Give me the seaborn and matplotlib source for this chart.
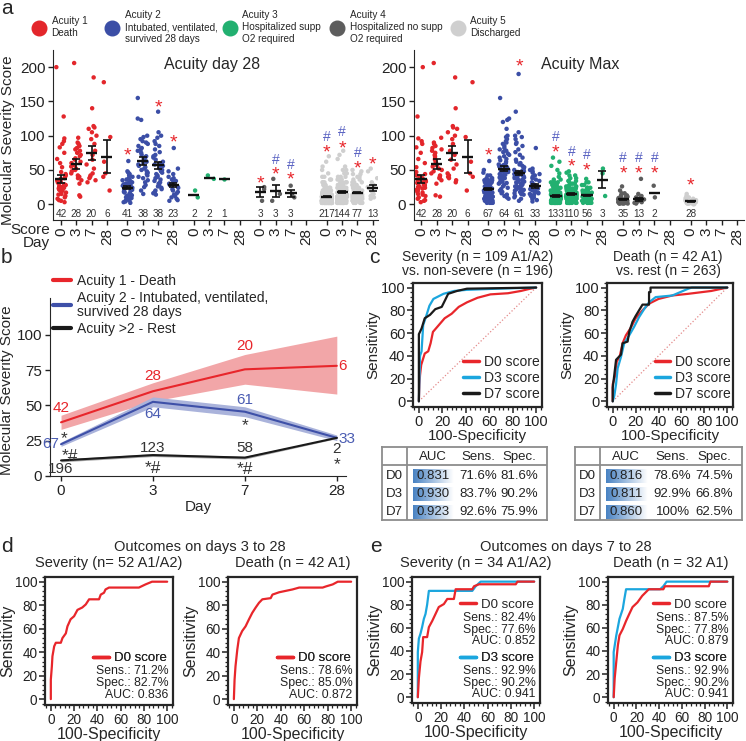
import numpy as np
import pandas as pd
import seaborn as sns
import matplotlib.pyplot as plt
from matplotlib.colors import LinearSegmentedColormap
from matplotlib.lines import Line2D
from matplotlib.ticker import AutoMinorLocator

sns.set_style("ticks")
plt.rcParams["font.family"] = ["Liberation Sans", "DejaVu Sans"]


def spread(vals, counts):
    return list(np.repeat(vals, counts))


# ---------------- panel a : scores per patient ----------------
ACUITY_NAMES = [
    "Acuity 1\nDeath",
    "Acuity 2\nIntubated, ventilated,\nsurvived 28 days",
    "Acuity 3\nHospitalized supp\nO2 required",
    "Acuity 4\nHospitalized no supp\nO2 required",
    "Acuity 5\nDischarged",
]
ACUITY_COLORS = ["#e3262b", "#3b4ea6", "#22b070", "#5d5d5d", "#cfcfcf"]
DAY_LABELS = ["0", "3", "7", "28"]

# acuity 1 (same in both halves)
A1_D0 = [200, 128, 96, 92, 88, 83, 75, 66, 60, 54, 47, 44, 42, 40, 38, 37, 35, 34, 33, 32, 31,
         30, 29, 28, 27, 26, 25, 24, 23, 22, 21, 20, 18, 17, 15, 14, 12, 10, 8, 6, 5, 3]
A1_D3 = [206, 97, 90, 88, 85, 82, 80, 78, 75, 72, 70, 67, 65, 62, 60, 57, 55, 52, 50, 48, 45,
         42, 40, 38, 35, 30, 13, 11]
A1_D7 = [185, 140, 114, 112, 110, 105, 100, 95, 88, 78, 72, 65, 58, 52, 45, 42, 40, 38, 35, 32]
A1_D28 = [178, 98, 62, 45, 40, 20]
A1_MEAN = [37, 59, 75, 69]
A1_SEM = [6, 7, 10, 24]

# acuity on day 28
L_A2_D0 = [63, 48, 46, 44, 42, 40, 38, 36, 35, 34, 32, 31, 30, 29, 28, 27, 26, 25, 24, 23, 22,
           21, 20, 19, 18, 17, 16, 15, 14, 13, 12, 11, 10, 9, 8, 7, 6, 5, 4, 3, 2]
L_A2_D3 = [155, 125, 123, 100, 98, 95, 92, 90, 88, 85, 82, 80, 78, 75, 72, 70, 68, 66, 64, 62,
           60, 58, 56, 54, 52, 50, 48, 46, 44, 42, 40, 38, 35, 32, 28, 25, 20, 15]
L_A2_D7 = [135, 105, 100, 97, 92, 88, 85, 80, 76, 72, 70, 68, 65, 62, 60, 58, 56, 54, 52, 50,
           48, 46, 44, 42, 40, 38, 36, 34, 32, 30, 28, 26, 24, 22, 20, 18, 16, 14]
L_A2_D28 = [82, 52, 48, 44, 40, 38, 36, 34, 32, 30, 28, 26, 24, 22, 20, 18, 16, 14, 12, 10, 8, 6, 5]
L_A3_D0 = [20, 10]
L_A3_D3 = [42, 37]
L_A3_D7 = [37]
L_A4_D0 = [25, 22, 5]
L_A4_D3 = [37, 15, 5]
L_A4_D7 = [27, 15, 10]
L_A5_D0 = spread([2, 5, 8, 11, 14, 17, 20, 24, 28, 32, 36, 40, 45, 50, 55, 62, 70],
                 [40, 45, 40, 30, 20, 12, 8, 6, 4, 3, 2, 2, 1, 1, 1, 1, 1])
L_A5_D3 = spread([2, 5, 8, 11, 14, 17, 20, 24, 28, 32, 36, 40, 45, 50, 55, 66, 72, 78],
                 [18, 22, 22, 18, 14, 11, 8, 7, 6, 4, 3, 3, 2, 2, 1, 1, 1, 1])
L_A5_D7 = spread([2, 5, 8, 11, 14, 17, 20, 24, 28, 32, 36, 40, 44, 48, 50],
                 [8, 10, 11, 10, 8, 7, 5, 4, 3, 3, 2, 2, 2, 1, 1])
L_A5_D28 = [52, 48, 38, 32, 28, 25, 22, 20, 18, 15, 12, 10, 8]
L_A2_MEAN, L_A2_SEM = [24, 63, 57, 28], [2, 6, 5, 3.5]
L_A3_MEAN, L_A3_SEM = [14, 38, 37], [0, 0, 0]
L_A4_MEAN, L_A4_SEM = [18, 19, 16], [7, 9, 5]
L_A5_MEAN, L_A5_SEM = [11, 18, 17, 24], [0.8, 1, 1.2, 4.5]
# (acuity, day) slots of the significance marks and their heights
L_STARS = [(1, 0, 80), (1, 2, 149), (1, 3, 99), (3, 0, 39), (3, 1, 51), (3, 2, 44),
           (4, 0, 84), (4, 1, 90), (4, 2, 60), (4, 3, 67)]
L_HASH = [(3, 1, 66), (3, 2, 58), (4, 0, 99), (4, 1, 107), (4, 2, 76)]

# maximum acuity
R_A2_D0 = spread([2, 5, 8, 11, 14, 17, 20, 23, 26, 29, 32, 35, 38, 42, 46, 50, 63],
                 [5, 6, 6, 6, 6, 6, 6, 5, 4, 4, 3, 3, 2, 2, 1, 1, 1])
R_A2_D3 = [155, 125, 123, 120, 110, 100, 98, 95, 92, 90, 88, 85, 82, 80, 78, 76, 74, 72, 70, 68,
           66, 64, 62, 60, 58, 57, 56, 55, 54, 53, 52, 51, 50, 49, 48, 47, 46, 45, 44, 43, 42,
           41, 40, 39, 38, 37, 36, 35, 34, 33, 32, 31, 30, 28, 26, 24, 22, 20, 18, 16, 14, 12, 10, 8]
R_A2_D7 = [190, 135, 105, 100, 98, 95, 90, 88, 85, 80, 76, 72, 68, 65, 62, 60, 58, 56, 54, 52,
           50, 49, 48, 47, 46, 45, 44, 43, 42, 41, 40, 39, 38, 37, 36, 35, 34, 33, 32, 31, 30,
           29, 28, 27, 26, 25, 24, 23, 22, 21, 20, 19, 18, 17, 16, 15, 14, 12, 10, 8, 5]
R_A2_D28 = [82, 52, 50, 48, 46, 44, 42, 40, 38, 36, 34, 32, 30, 28, 27, 26, 25, 24, 23, 22, 21,
            20, 19, 18, 17, 16, 15, 14, 12, 10, 8, 6, 4]
R_A3_D0 = spread([2, 5, 8, 11, 14, 17, 20, 24, 28, 32, 36, 40, 45, 50, 56, 62, 68],
                 [22, 26, 22, 17, 12, 9, 6, 5, 3, 3, 2, 1, 1, 1, 1, 1, 1])
R_A3_D3 = spread([2, 5, 8, 11, 14, 17, 20, 23, 26, 30, 34, 38, 42, 46, 48],
                 [12, 15, 15, 14, 12, 10, 8, 6, 5, 4, 3, 2, 2, 1, 1])
R_A3_D7 = spread([2, 5, 8, 11, 14, 17, 20, 24, 28, 32, 37],
                 [7, 9, 9, 8, 6, 5, 4, 3, 2, 2, 1])
R_A3_D28 = [52, 45, 12]
R_A4_D0 = spread([1, 3, 5, 7, 9, 11, 13, 16, 20, 26], [5, 6, 6, 5, 4, 3, 2, 2, 1, 1])
R_A4_D3 = [37, 15, 12, 10, 9, 8, 7, 6, 5, 4, 3, 2, 1]
R_A4_D7 = [27, 10]
R_A5_D0 = [15, 12, 10, 9, 8, 7, 6, 6, 5, 5, 5, 4, 4, 4, 4, 3, 3, 3, 3, 2, 2, 2, 2, 1, 1, 1, 0, 0]
R_A2_MEAN, R_A2_SEM = [22, 52, 45, 26], [1.5, 4, 3, 3]
R_A3_MEAN, R_A3_SEM = [12, 15, 13, 36], [0.8, 0.8, 1, 12]
R_A4_MEAN, R_A4_SEM = [7, 7, 17], [1, 2.5, 0]
R_A5_MEAN, R_A5_SEM = [4], [0.5]
R_STARS = [(1, 0, 79), (1, 2, 209), (2, 0, 84), (2, 1, 63), (2, 2, 58), (3, 0, 53), (3, 1, 53),
           (3, 2, 53), (4, 0, 36)]
R_HASH = [(2, 0, 99), (2, 1, 78), (2, 2, 74), (3, 0, 69), (3, 1, 69), (3, 2, 69)]

LEFT_POINTS = [(0, [A1_D0, A1_D3, A1_D7, A1_D28]), (1, [L_A2_D0, L_A2_D3, L_A2_D7, L_A2_D28]),
               (2, [L_A3_D0, L_A3_D3, L_A3_D7]), (3, [L_A4_D0, L_A4_D3, L_A4_D7]),
               (4, [L_A5_D0, L_A5_D3, L_A5_D7, L_A5_D28])]
LEFT_MEANS = [(0, A1_MEAN, A1_SEM), (1, L_A2_MEAN, L_A2_SEM), (2, L_A3_MEAN, L_A3_SEM),
              (3, L_A4_MEAN, L_A4_SEM), (4, L_A5_MEAN, L_A5_SEM)]
RIGHT_POINTS = [(0, [A1_D0, A1_D3, A1_D7, A1_D28]), (1, [R_A2_D0, R_A2_D3, R_A2_D7, R_A2_D28]),
                (2, [R_A3_D0, R_A3_D3, R_A3_D7, R_A3_D28]), (3, [R_A4_D0, R_A4_D3, R_A4_D7]),
                (4, [R_A5_D0])]
RIGHT_MEANS = [(0, A1_MEAN, A1_SEM), (1, R_A2_MEAN, R_A2_SEM), (2, R_A3_MEAN, R_A3_SEM),
               (3, R_A4_MEAN, R_A4_SEM), (4, R_A5_MEAN, R_A5_SEM)]

# ---------------- panel b : mean scores over time ----------------
B_DAY_POS = [0, 1, 2, 3]
B_A1_MEAN, B_A1_LO, B_A1_HI = [38, 60, 75.5, 78], [33, 53, 65, 58], [43, 66, 86, 99]
B_A2_MEAN, B_A2_LO, B_A2_HI = [22.5, 52.5, 45.5, 27], [21, 49, 42, 25], [24, 56, 49, 29]
B_REST_MEAN, B_REST_LO, B_REST_HI = [11, 14.8, 13, 27], [10, 13.8, 12, 26.5], [12, 15.8, 14, 27.5]
B_A1_N = ["42", "28", "20", "6"]
B_A2_N = ["67", "64", "61", "33"]
B_REST_N = ["196", "123", "58", "2"]

# ---------------- panel c : ROC of each day's score ----------------
C_SEV_D0_FPR = [0, 0.5, 1, 2, 5, 8, 10, 12, 17, 22, 28, 34, 41, 50, 61, 76, 87, 95, 100]
C_SEV_D0_TPR = [0, 15, 23, 32, 42, 44, 51, 61, 67, 73, 77, 83, 87, 91, 94, 95, 97, 99, 100]
C_SEV_D3_FPR = [0, 1, 2.3, 3.7, 6.6, 9, 12.4, 21, 30, 41, 67, 100]
C_SEV_D3_TPR = [0, 40, 44, 67, 76, 84, 90, 94.5, 97, 98, 99, 100]
C_SEV_D7_FPR = [0, 0, 2.3, 5, 9.5, 14, 19.5, 22.4, 25, 32.5, 41, 100]
C_SEV_D7_TPR = [0, 59, 64, 73, 76, 81, 83, 89, 94.5, 97, 99, 100]
C_DEA_D0_FPR = [0, 0, 2.3, 3.5, 6, 8.6, 11.5, 16, 20, 26, 32, 40, 52, 66, 86, 100]
C_DEA_D0_TPR = [0, 15, 23, 35, 39, 51, 58, 65, 73, 80, 86, 90, 93, 94.5, 97, 100]
C_DEA_D3_FPR = [0, 1.4, 2.9, 4.3, 7.2, 10, 14.4, 18.7, 23, 27.4, 31.7, 37.5, 52, 66, 69, 100]
C_DEA_D3_TPR = [0, 5, 15, 29, 39, 51, 58, 65.5, 74, 81, 87, 91.6, 93, 99, 100, 100]
C_DEA_D7_FPR = [0, 0, 1.4, 2.9, 7.2, 8.6, 13, 14.4, 17.3, 20, 26, 31.7, 31.7, 33, 33, 100]
C_DEA_D7_TPR = [0, 12, 23.5, 36.5, 41, 51, 52.5, 61, 70, 75, 85, 85, 96, 96, 100, 100]
TABLE_ROWS = ["D0", "D3", "D7"]
C_SEV_AUC, C_SEV_SENS, C_SEV_SPEC = ["0.831", "0.930", "0.923"], ["71.6%", "83.7%", "92.6%"], ["81.6%", "90.2%", "75.9%"]
C_DEA_AUC, C_DEA_SENS, C_DEA_SPEC = ["0.816", "0.811", "0.860"], ["78.6%", "92.9%", "100%"], ["74.5%", "66.8%", "62.5%"]

# ---------------- panels d / e : later outcomes ----------------
D_SEV_FPR = [0, 0, 0.9, 1.4, 2.9, 4.3, 8.6, 10, 12.9, 14.3, 17, 20, 22.9, 27, 30, 32.9, 41.4, 42.9,
             45.7, 47, 50, 75.7, 81.4, 87, 100]
D_SEV_TPR = [0, 16.5, 28, 36.5, 45, 48, 48, 52, 56, 62, 68, 70.6, 76, 78, 80.6, 85, 85, 89, 90.6,
             93.4, 95, 95, 97.7, 100, 100]
D_DEA_FPR = [0, 0.6, 1.4, 2.9, 4.3, 7.1, 10, 12.9, 15.7, 18.6, 21.4, 24.3, 31.4, 32.9, 38.6, 50,
             55.7, 75.7, 78.6, 84.3, 88.6, 100]
D_DEA_TPR = [0, 16.5, 28, 42, 52, 58, 62, 68, 73.5, 78, 82, 85, 86, 89, 91, 93.4, 95, 95, 96, 97.7,
             100, 100]
E_SEV_D0_FPR = [0, 0.9, 2.3, 3.7, 4.6, 8, 9.5, 12.4, 15.2, 18, 22.4, 25.3, 31, 32.5, 46.8, 48.3,
                52.6, 84.2, 85.6, 100]
E_SEV_D0_TPR = [0, 16.5, 31, 39, 52, 52, 60.6, 66, 72, 78, 80.6, 85, 85, 93.4, 93.4, 96, 97.7,
                97.7, 100, 100]
E_SEV_D3_FPR = [0, 0, 0.9, 2.3, 3.7, 5.2, 6.6, 8, 9.5, 46.8, 49.7, 54, 100]
E_SEV_D3_TPR = [0, 39, 50.7, 55, 60.7, 67.8, 72, 80, 92, 92, 96, 100, 100]
E_DEA_D0_FPR = [0, 0.9, 2.3, 3.7, 5.1, 8, 10.9, 13.7, 16.6, 20.9, 25.1, 30.9, 43.7, 45.1, 83.7, 85.1, 100]
E_DEA_D0_TPR = [0, 16.5, 31, 45, 53.5, 59, 66, 72, 78, 82, 87.7, 93.4, 93.4, 96, 96, 100, 100]
E_DEA_D3_FPR = [0, 0, 2.3, 5.1, 8, 9.4, 10.9, 40.9, 43.7, 46.6, 100]
E_DEA_D3_TPR = [0, 39, 53.5, 67.8, 76.4, 85, 93.4, 93.4, 96, 100, 100]
D_SEV_STATS = ("71.2%", "82.7%", "0.836")
D_DEA_STATS = ("78.6%", "85.0%", "0.872")
E_SEV_STATS = [("82.4%", "77.6%", "0.852"), ("92.9%", "90.2%", "0.941")]
E_DEA_STATS = [("87.5%", "77.8%", "0.879"), ("92.9%", "90.2%", "0.941")]

RED, CYAN, BLACK = "#e8262b", "#1ba6de", "#1a1a1a"
HASH = "#5962c2"
TXT = "#222222"
DAY_STEP = 1.15  # slot spacing inside an acuity group

W, H = 746, 741
fig = plt.figure(figsize=(W / 100, H / 100), dpi=100)


def box(x0, y0, x1, y1):
    """axes from a pixel box (top-left origin)"""
    return fig.add_axes([x0 / W, 1 - y1 / H, (x1 - x0) / W, (y1 - y0) / H])


def slot(a, d):
    return a * 5 + d * DAY_STEP


def glyph(ax, x, y, s, color, size, lift):
    ax.annotate(s, (x, y), xytext=(0, -lift * size), textcoords="offset points",
                ha="center", va="baseline", fontsize=size, color=color, zorder=6)


def score_panel(ax, points, means, stars, hashes, title, title_x, xlim):
    rows = [(slot(a, d), v, str(a)) for a, days in points for d, vals in enumerate(days) for v in vals]
    df = pd.DataFrame(rows, columns=["pos", "score", "acuity"])
    pal = {str(i): c for i, c in enumerate(ACUITY_COLORS)}
    sns.stripplot(data=df, x="pos", y="score", hue="acuity", palette=pal, native_scale=True,
                  jitter=0.34, size=3.2, linewidth=0, legend=False, ax=ax, zorder=1)
    for a, days in points:
        for d, vals in enumerate(days):
            ax.text(slot(a, d), -14, str(len(vals)), ha="center", va="center", fontsize=7.2,
                    color="#333")
    for a, m, e in means:
        pos = np.array([slot(a, d) for d in range(len(m))])
        ax.hlines(m, pos - 0.42, pos + 0.42, color="#111", lw=1.7, zorder=5)
        ax.errorbar(pos, m, yerr=e, fmt="none", ecolor="#111", elinewidth=1.2, capsize=2.6,
                    capthick=1.2, zorder=5)
    for a, d, y in stars:
        glyph(ax, slot(a, d), y, "*", "#e8262b", 14, 0.55)
    for a, d, y in hashes:
        glyph(ax, slot(a, d), y, "#", HASH, 10, 0.36)
    ax.set_xlim(*xlim)
    ax.set_ylim(-23, 225)
    ax.set_xticks([slot(a, d) for a in range(5) for d in range(4)])
    ax.set_xticklabels(DAY_LABELS * 5, rotation=90)
    ax.set_yticks(range(0, 201, 50))
    ax.tick_params(labelsize=11, length=3.5, width=1, pad=2, colors="#222")
    ax.set_xlabel("")
    ax.set_ylabel("")
    sns.despine(ax=ax)
    ax.text(title_x, 0.915, title, transform=ax.transAxes, ha="center", va="center", fontsize=11.5)


# ---- panel a
ax_al = box(53, 50, 378, 220)
score_panel(ax_al, LEFT_POINTS, LEFT_MEANS, L_STARS, L_HASH, "Acuity day 28", 0.49, (-0.6, 23.85))
ax_al.set_ylabel("Molecular Severity Score", fontsize=11)
ax_al.yaxis.set_label_coords(-0.118, 0.47)
ax_ar = box(414, 50, 744, 220)
score_panel(ax_ar, RIGHT_POINTS, RIGHT_MEANS, R_STARS, R_HASH, "Acuity Max", 0.503, (-0.52, 23.95))
fig.text(50 / W, 1 - 230 / H, "Score", ha="right", va="center", fontsize=11)
fig.text(50 / W, 1 - 243 / H, "Day", ha="right", va="center", fontsize=11)

for name, color, mx in zip(ACUITY_NAMES, ACUITY_COLORS, [39, 112, 230, 337, 458]):
    h = Line2D([], [], ls="", marker="o", markersize=10.5, color=color)
    leg = fig.legend([h], [name], loc="center left", bbox_to_anchor=((mx - 5) / W, 1 - 27 / H),
                     frameon=False, handlelength=1.0, handletextpad=0.75, borderpad=0,
                     borderaxespad=0, fontsize=7.2)
    for t in leg.get_texts():
        t.set_linespacing(1.2)

# ---- panel b
axb = box(50, 298, 346, 476)
series_b = [
    (B_A1_MEAN, B_A1_LO, B_A1_HI, "#e8262b", "#f2a6a8", "Acuity 1 - Death"),
    (B_A2_MEAN, B_A2_LO, B_A2_HI, "#3e50a8", "#aab3db", "Acuity 2 - Intubated, ventilated,\nsurvived 28 days"),
    (B_REST_MEAN, B_REST_LO, B_REST_HI, "#1a1a1a", "#a8a8a8", "Acuity >2 - Rest"),
]
for mean, lo, hi, color, band, label in series_b:
    axb.fill_between(B_DAY_POS, lo, hi, color=band, lw=0, zorder=1)
    sns.lineplot(x=B_DAY_POS, y=mean, color=color, lw=1.5, ax=axb, label=label, zorder=3)
leg = axb.legend(loc="upper left", bbox_to_anchor=(0.01, 1.135), frameon=False, fontsize=10,
                 handlelength=1.3, handletextpad=0.4, labelspacing=0.2, borderpad=0, borderaxespad=0)
for ln in leg.get_lines():
    ln.set_linewidth(3)
for t in leg.get_texts():
    t.set_linespacing(1.0)
for x, s, y in zip(B_DAY_POS[:3], B_A1_N[:3], [48, 71, 92]):
    axb.text(x, y, s, color="#e8262b", ha="center", va="center", fontsize=11)
axb.text(3.02, B_A1_MEAN[3], B_A1_N[3], color="#e8262b", ha="left", va="center", fontsize=11)
axb.text(-0.025, B_A2_MEAN[0], B_A2_N[0], color="#4a5cb2", ha="right", va="center", fontsize=11)
axb.text(1, 44, B_A2_N[1], color="#4a5cb2", ha="center", va="center", fontsize=11)
axb.text(2, 54, B_A2_N[2], color="#4a5cb2", ha="center", va="center", fontsize=11)
axb.text(3.02, B_A2_MEAN[3] - 1, B_A2_N[3], color="#4a5cb2", ha="left", va="center", fontsize=11)
for x, s, y in zip(B_DAY_POS, B_REST_N, [5, 20, 20, 19]):
    axb.text(x, y, s, color="#333", ha="center", va="center", fontsize=11)
for x, s, y in [(0.03, "*", 29), (0.1, "*#", 16.5), (1, "*#", 8), (2, "*", 38), (2, "*#", 7), (3, "*", 10.5)]:
    glyph(axb, x, y, s, "#333", 12.5, 0.45)
axb.set_xlim(-0.12, 3.1)
axb.set_ylim(0, 126)
axb.set_xticks(B_DAY_POS)
axb.set_xticklabels(DAY_LABELS)
axb.set_yticks(range(0, 101, 25))
axb.tick_params(labelsize=11, length=3.5, width=1, pad=2, colors="#222")
axb.set_xlabel("Day", fontsize=11, labelpad=2)
axb.set_ylabel("Molecular Severity Score", fontsize=11)
axb.yaxis.set_label_coords(-0.122, 0.48)
sns.despine(ax=axb)


# ---- ROC helpers
def roc_axes(ax, tick_fs=10.5, label_fs=11):
    ax.set_xlim(-5, 105)
    ax.set_ylim(-5, 104)
    ax.set_xticks(range(0, 101, 20))
    ax.set_yticks(range(0, 101, 20))
    ax.xaxis.set_minor_locator(AutoMinorLocator(5))
    ax.yaxis.set_minor_locator(AutoMinorLocator(5))
    ax.tick_params(which="major", length=4, width=1.1, labelsize=tick_fs, pad=1.5, colors="#222")
    ax.tick_params(which="minor", length=2.2, width=0.9, colors="#222")
    for s in ax.spines.values():
        s.set_linewidth(1.6)
        s.set_color("#262626")
    ax.set_xlabel("100-Specificity", fontsize=label_fs, labelpad=0)
    ax.set_ylabel("Sensitivity", fontsize=label_fs, labelpad=0)


def roc_curve(ax, fpr, tpr, color, label=None):
    sns.lineplot(x=fpr, y=tpr, sort=False, estimator=None, color=color, lw=1.6, ax=ax,
                 label=label, zorder=3)


def auc_table(ax, auc, sens, spec):
    grad = LinearSegmentedColormap.from_list("auc", ["#4a83c3", "#ffffff"])
    for i, (lab, a, se, sp) in enumerate(zip(TABLE_ROWS, auc, sens, spec)):
        y = 29 + 18 * i
        ax.imshow(np.linspace(0, 1, 60)[None, :], cmap=grad, extent=(31, 72, y + 7, y - 7),
                  aspect="auto", zorder=0)
        ax.text(12.5, y, lab, ha="center", va="center", fontsize=9.5, color=TXT)
        ax.text(51, y, a, ha="center", va="center", fontsize=9.5, color=TXT)
        ax.text(97, y, se, ha="center", va="center", fontsize=9.5, color=TXT)
        ax.text(138, y, sp, ha="center", va="center", fontsize=9.5, color=TXT)
    for x, s in zip([51, 97, 138], ["AUC", "Sens.", "Spec."]):
        ax.text(x, 10, s, ha="center", va="center", fontsize=9.5, color=TXT)
    ax.axvline(25, color="#8c8c8c", lw=1.3)
    ax.axhline(18, color="#8c8c8c", lw=1.3)
    ax.set_xlim(0, 166)
    ax.set_ylim(73, 0)
    ax.set_xticks([])
    ax.set_yticks([])
    for s in ax.spines.values():
        s.set_color("#8c8c8c")
        s.set_linewidth(1.3)


# ---- panel c
for (x0, x1), curves, title, cx in [
    ((413, 542), [(C_SEV_D0_FPR, C_SEV_D0_TPR), (C_SEV_D3_FPR, C_SEV_D3_TPR), (C_SEV_D7_FPR, C_SEV_D7_TPR)],
     "Severity (n = 109 A1/A2)\nvs. non-severe (n = 196)", 478),
    ((607, 733), [(C_DEA_D0_FPR, C_DEA_D0_TPR), (C_DEA_D3_FPR, C_DEA_D3_TPR), (C_DEA_D7_FPR, C_DEA_D7_TPR)],
     "Death (n = 42 A1)\nvs. rest (n = 263)", 668),
]:
    ax = box(x0, 283, x1, 407)
    ax.plot([0, 100], [0, 100], ls=":", color="#e48a8a", lw=0.9, zorder=1)
    for (fpr, tpr), color, label in zip(curves, [RED, CYAN, BLACK], ["D0 score", "D3 score", "D7 score"]):
        roc_curve(ax, fpr, tpr, color, label)
    ax.legend(loc="lower right", bbox_to_anchor=(0.985, 0.05), frameon=False, fontsize=10,
              handlelength=1.1, handletextpad=0.4, labelspacing=0.15, borderpad=0, borderaxespad=0)
    for ln in ax.get_legend().get_lines():
        ln.set_linewidth(2.5)
    roc_axes(ax)
    fig.text(cx / W, 1 - 264 / H, title, ha="center", va="center", fontsize=10, linespacing=1.05)

auc_table(box(382, 447, 547, 520), C_SEV_AUC, C_SEV_SENS, C_SEV_SPEC)
auc_table(box(575, 447, 742, 520), C_DEA_AUC, C_DEA_SENS, C_DEA_SPEC)


def stat_block(ax, color, label, stats, top):
    h = Line2D([], [], color=color, lw=2.5)
    leg = ax.legend([h], [label], loc="center right", bbox_to_anchor=(0.955, top), frameon=False,
                    handlelength=1.2, handletextpad=0.4, borderpad=0, borderaxespad=0, fontsize=9.5)
    ax.add_artist(leg)
    sens, spec, auc = stats
    for k, txt in enumerate([f"Sens.: {sens}", f"Spec.: {spec}", f"AUC: {auc}"]):
        ax.text(0.965, top - 0.105 - 0.092 * k, txt, transform=ax.transAxes, ha="right",
                va="center", fontsize=8.8, color=TXT)


# ---- panel d
for (x0, x1), fpr, tpr, stats, title in [
    ((45, 173), D_SEV_FPR, D_SEV_TPR, D_SEV_STATS, "Severity (n= 52 A1/A2)"),
    ((228, 357), D_DEA_FPR, D_DEA_TPR, D_DEA_STATS, "Death (n = 42 A1)"),
]:
    ax = box(x0, 577, x1, 705)
    roc_curve(ax, fpr, tpr, RED)
    roc_axes(ax, tick_fs=9.8, label_fs=11.5)
    stat_block(ax, RED, "D0 score", stats, 0.367)
    fig.text((x0 + x1) / 2 / W, 1 - 563 / H, title, ha="center", va="center", fontsize=10.5)
fig.text(200 / W, 1 - 547 / H, "Outcomes on days 3 to 28", ha="center", va="center", fontsize=10.5)

# ---- panel e
for (x0, x1), d0, d3, stats, title in [
    ((412, 540), (E_SEV_D0_FPR, E_SEV_D0_TPR), (E_SEV_D3_FPR, E_SEV_D3_TPR), E_SEV_STATS,
     "Severity (n = 34 A1/A2)"),
    ((608, 733), (E_DEA_D0_FPR, E_DEA_D0_TPR), (E_DEA_D3_FPR, E_DEA_D3_TPR), E_DEA_STATS,
     "Death (n = 32 A1)"),
]:
    ax = box(x0, 577, x1, 703)
    roc_curve(ax, d3[0], d3[1], CYAN)
    roc_curve(ax, d0[0], d0[1], RED)
    roc_axes(ax, tick_fs=9.8, label_fs=11.5)
    stat_block(ax, RED, "D0 score", stats[0], 0.778)
    stat_block(ax, CYAN, "D3 score", stats[1], 0.357)
    fig.text((x0 + x1) / 2 / W, 1 - 563 / H, title, ha="center", va="center", fontsize=10.5)
fig.text(566 / W, 1 - 547 / H, "Outcomes on days 7 to 28", ha="center", va="center", fontsize=10.5)

# panel letters
for s, x, y in [("a", 1, 9), ("b", 1, 257), ("c", 369, 257), ("d", 1, 547), ("e", 370, 547)]:
    fig.text(x / W, 1 - y / H, s, ha="left", va="center", fontsize=15)

fig.savefig("out.png", dpi=100)
